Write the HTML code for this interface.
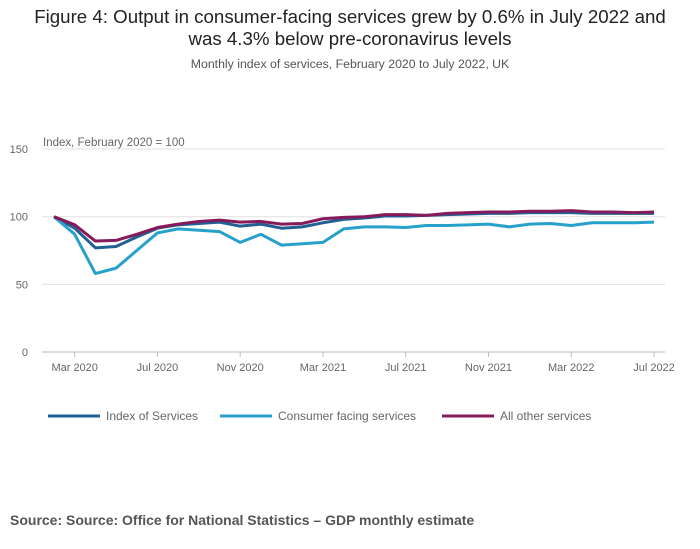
<!DOCTYPE html>
<html><head><meta charset="utf-8"><style>
body{margin:0;background:#fff;font-family:"Liberation Sans",sans-serif;}
#wrap{position:relative;width:700px;height:549px;overflow:hidden;}
.t{position:absolute;left:0;width:700px;text-align:center;color:#222;}
</style></head><body>
<div id="wrap">
<div class="t" style="top:6px;font-size:18.7px;line-height:22px;color:#222">Figure 4: Output in consumer-facing services grew by 0.6% in July 2022 and<br>was 4.3% below pre-coronavirus levels</div>
<div class="t" style="top:57px;font-size:12.3px;color:#555">Monthly index of services, February 2020 to July 2022, UK</div>
<svg id="svg" width="700" height="549" style="position:absolute;left:0;top:0"></svg>
<div style="position:absolute;left:10px;top:512px;font-size:14px;font-weight:bold;color:#555">Source: Source: Office for National Statistics – GDP monthly estimate</div>
</div>
<script>
const months=["Feb 2020","Mar 2020","Apr 2020","May 2020","Jun 2020","Jul 2020","Aug 2020","Sep 2020","Oct 2020","Nov 2020","Dec 2020","Jan 2021","Feb 2021","Mar 2021","Apr 2021","May 2021","Jun 2021","Jul 2021","Aug 2021","Sep 2021","Oct 2021","Nov 2021","Dec 2021","Jan 2022","Feb 2022","Mar 2022","Apr 2022","May 2022","Jun 2022","Jul 2022"];
const indexServices=[100,91.5,77,78,85,91.5,94,95,96,93,94.5,91.5,92.5,95.5,98,99,100.5,100.5,101,101.5,102,102.5,102.5,103,103,103,102.5,102.5,102.5,102.5];
const consumerFacing=[100,87,58,62,75,88,91,90,89,81,87,79,80,81,91,92.5,92.5,92,93.5,93.5,94,94.5,92.5,94.5,95,93.5,95.5,95.5,95.5,96];
const otherServices=[100,94,82,82.5,87,92,94.5,96.5,97.5,96,96.5,94.5,95,98.5,99.5,100,101.5,101.5,101,102.5,103,103.5,103.5,104,104,104.5,103.5,103.5,103,103.5];
const yTicks=[0,50,100,150];
const xTickLabels=["Mar 2020","Jul 2020","Nov 2020","Mar 2021","Jul 2021","Nov 2021","Mar 2022","Jul 2022"];
const seriesNames=["Index of Services","Consumer facing services","All other services"];
const colors=["#206095","#27a0cc","#871a5b"];
const NS="http://www.w3.org/2000/svg";
const svg=document.getElementById('svg');
const x=i=>54+i*(600/29);
const y=v=>352-v*1.353;
function mk(tag,attrs,parent){const e=document.createElementNS(NS,tag);for(const k in attrs)e.setAttribute(k,attrs[k]);(parent||svg).appendChild(e);return e;}
yTicks.forEach(v=>{
 const l=mk('line',{x1:42,x2:665,y1:y(v),y2:y(v),stroke:v===0?'#bbb':'#e0e0e0','stroke-width':1});
 
 
 const t=mk('text',{x:28,y:y(v)+4,'font-size':11,fill:'#666','text-anchor':'end','font-family':'Liberation Sans'});
 t.textContent=v;
 
 
});
const yt=mk('text',{x:43,y:146,'font-size':11.5,fill:'#666','font-family':'Liberation Sans'});
yt.textContent="Index, February 2020 = 100";


xTickLabels.forEach(lbl=>{
 const i=months.indexOf(lbl);
 const tk=mk('line',{x1:x(i),x2:x(i),y1:352,y2:357,stroke:'#bbb'});
 
 
 const t=mk('text',{x:x(i),y:371,'font-size':11,fill:'#666','text-anchor':'middle','font-family':'Liberation Sans'});
 t.textContent=lbl;
 
 
});
[indexServices,consumerFacing,otherServices].forEach((s,k)=>{
 const p=mk('polyline',{points:s.map((v,i)=>x(i)+','+y(v)).join(' '),fill:'none',stroke:colors[k],'stroke-width':3,'stroke-linejoin':'round'});
 
 
});
const lx=[48,220,442];
seriesNames.forEach((n,k)=>{
 const g=mk('g',{});
 
 
 mk('line',{x1:lx[k],x2:lx[k]+52,y1:416,y2:416,stroke:colors[k],'stroke-width':3},g);
 const t=mk('text',{x:lx[k]+58,y:420,'font-size':12,fill:'#666','font-family':'Liberation Sans'},g);
 t.textContent=n;
});
</script>
</body></html>
